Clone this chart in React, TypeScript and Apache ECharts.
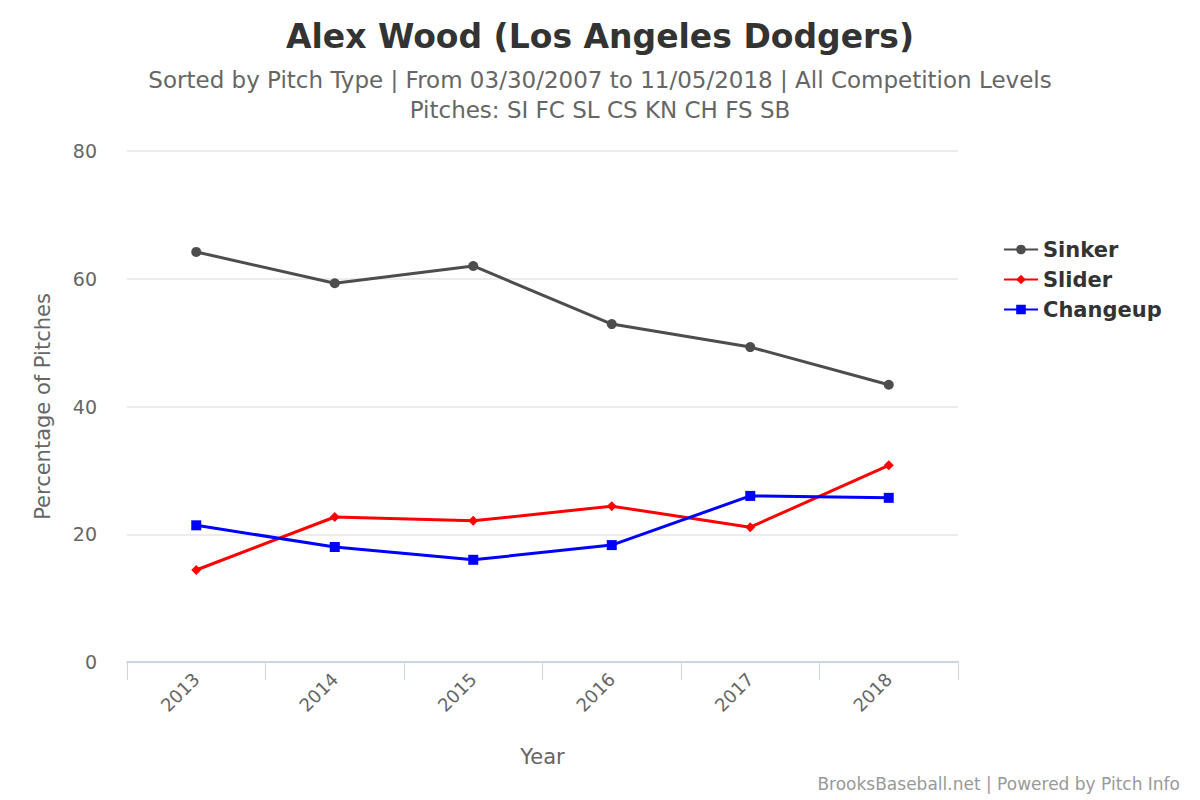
import React, { useEffect, useRef } from 'react';
import * as echarts from 'echarts';

const years = ['2013', '2014', '2015', '2016', '2017', '2018'];
const sinker = [64.2, 59.3, 62.0, 52.9, 49.3, 43.4];
const slider = [14.4, 22.7, 22.1, 24.4, 21.1, 30.8];
const changeup = [21.4, 18.0, 16.0, 18.3, 26.0, 25.7];

const FONT = '"DejaVu Sans", "Open Sans", sans-serif';

export default function App() {
  const chartRef = useRef<HTMLDivElement>(null);

  useEffect(() => {
    if (!chartRef.current) return;
    const chart = echarts.init(chartRef.current, undefined, { renderer: 'svg' });

    const option: echarts.EChartsOption = {
      animation: false,
      backgroundColor: '#fff',
      textStyle: { fontFamily: FONT },
      title: {
        text: 'Alex Wood (Los Angeles Dodgers)',
        subtext: 'Sorted by Pitch Type | From 03/30/2007 to 11/05/2018 | All Competition Levels\nPitches: SI FC SL CS KN CH FS SB',
        left: 'center',
        top: 15,
        itemGap: 12,
        textStyle: { color: '#333', fontSize: 33, fontWeight: 'bold', fontFamily: FONT },
        subtextStyle: { color: '#666', fontSize: 23, lineHeight: 30, fontFamily: FONT },
      },
      legend: {
        orient: 'vertical',
        left: 998,
        top: 234,
        itemGap: 9,
        itemWidth: 34,
        itemHeight: 12,
        textStyle: { color: '#333', fontSize: 21, fontWeight: 'bold', fontFamily: FONT },
        data: ['Sinker', 'Slider', 'Changeup'],
      },
      grid: { left: 127, right: 242, top: 151, bottom: 138 },
      xAxis: {
        type: 'category',
        data: years,
        boundaryGap: true,
        name: 'Year',
        nameLocation: 'middle',
        nameGap: 84,
        nameTextStyle: { color: '#666', fontSize: 21 },
        axisLine: { lineStyle: { color: '#ccd6eb', width: 2 } },
        axisTick: { show: true, length: 18, lineStyle: { color: '#ccd6eb', width: 1 } },
        axisLabel: { color: '#666', fontSize: 18, rotate: 45, margin: 14 },
      },
      yAxis: {
        type: 'value',
        min: 0,
        max: 80,
        interval: 20,
        name: 'Percentage of Pitches',
        nameLocation: 'middle',
        nameGap: 74,
        nameTextStyle: { color: '#666', fontSize: 21 },
        axisLine: { show: false },
        axisTick: { show: false },
        axisLabel: { color: '#666', fontSize: 19, margin: 30 },
        splitLine: { lineStyle: { color: '#e6e6e6', width: 1.5 } },
      },
      series: [
        {
          name: 'Sinker', type: 'line', data: sinker, symbol: 'circle', symbolSize: 10,
          lineStyle: { color: '#4d4d4d', width: 3 }, itemStyle: { color: '#4d4d4d' },
        },
        {
          name: 'Slider', type: 'line', data: slider, symbol: 'diamond', symbolSize: 10,
          lineStyle: { color: '#ff0000', width: 3 }, itemStyle: { color: '#ff0000' },
        },
        {
          name: 'Changeup', type: 'line', data: changeup, symbol: 'rect', symbolSize: 10,
          lineStyle: { color: '#0000ff', width: 3 }, itemStyle: { color: '#0000ff' },
        },
      ],
      graphic: [
        {
          type: 'text',
          right: 20,
          bottom: 8,
          style: { text: 'BrooksBaseball.net | Powered by Pitch Info', fill: '#999', fontSize: 17, fontFamily: FONT },
        },
      ],
    };

    chart.setOption(option);
    return () => chart.dispose();
  }, []);

  return (
    <div
      ref={chartRef}
      style={{ position: 'fixed', left: 0, top: 0, width: '1200px', height: '800px' }}
    />
  );
}
